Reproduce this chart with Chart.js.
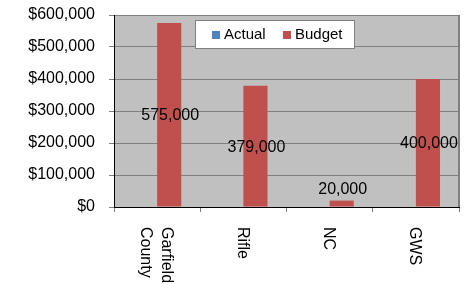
<!DOCTYPE html>
<html>
<head>
<meta charset="utf-8">
<script src="https://cdn.jsdelivr.net/npm/chart.js@4"></script>
<style>
  html, body { margin: 0; padding: 0; background: #fff; }
  #wrap { width: 473px; height: 284px; }
</style>
</head>
<body>
<div id="wrap"><canvas id="chart" width="473" height="284"></canvas></div>
<script>
// Chart data
const categories = [['Garfield', 'County'], ['Rifle'], ['NC'], ['GWS']];
const actualValues = [null, null, null, null];
const budgetValues = [575000, 379000, 20000, 400000];
const seriesNames = ['Actual', 'Budget'];
const seriesColors = ['#4F81BD', '#C0504D'];

const FONT = '"Liberation Sans", Arial, sans-serif';

// gray plot background + right border
const plotBackground = {
    id: 'plotBackground',
    beforeDraw(chart) {
        const { ctx, chartArea: a } = chart;
        ctx.save();
        ctx.fillStyle = '#C0C0C0';
        ctx.fillRect(a.left, a.top, a.right - a.left, a.bottom - a.top);
        ctx.restore();
    },
    afterDraw(chart) {
        const { ctx, chartArea: a } = chart;
        ctx.save();
        ctx.strokeStyle = '#808080';
        ctx.lineWidth = 2;
        ctx.beginPath();
        ctx.moveTo(a.right, a.top);
        ctx.lineTo(a.right, a.bottom);
        ctx.stroke();
        ctx.restore();
    }
};

// value labels on the budget bars
const barLabels = {
    id: 'barLabels',
    afterDatasetsDraw(chart) {
        const { ctx } = chart;
        const meta = chart.getDatasetMeta(1);
        ctx.save();
        ctx.font = '16px ' + FONT;
        ctx.fillStyle = '#000';
        ctx.textAlign = 'center';
        ctx.textBaseline = 'middle';
        meta.data.forEach((bar, i) => {
            const v = chart.data.datasets[1].data[i];
            if (v == null) return;
            const h = bar.base - bar.y;
            const y = h > 30 ? bar.y + h / 2 + 1 : bar.y - 11;
            ctx.fillText(v.toLocaleString('en-US'), bar.x + 1, y);
        });
        ctx.restore();
    }
};

// rotated category labels (reading top to bottom)
const categoryLabels = {
    id: 'categoryLabels',
    afterDraw(chart) {
        const { ctx } = chart;
        const xScale = chart.scales.x;
        ctx.save();
        ctx.font = '16px ' + FONT;
        ctx.fillStyle = '#000';
        ctx.textAlign = 'left';
        ctx.textBaseline = 'middle';
        categories.forEach((lines, i) => {
            const cx = xScale.getPixelForTick(i) - 1;
            const top = chart.chartArea.bottom + 20;
            ctx.save();
            ctx.translate(cx, top);
            ctx.rotate(Math.PI / 2);
            const n = lines.length;
            lines.forEach((line, j) => {
                const off = (j - (n - 1) / 2) * 21;
                ctx.fillText(line, 0, off);
            });
            ctx.restore();
        });
        ctx.restore();
    }
};

// legend box inside the plot
const boxLegend = {
    id: 'boxLegend',
    afterDraw(chart) {
        const { ctx } = chart;
        const left = 195, top = 20, w = 159, h = 28;
        ctx.save();
        ctx.fillStyle = '#fff';
        ctx.fillRect(left, top, w, h);
        ctx.strokeStyle = '#808080';
        ctx.lineWidth = 1;
        ctx.strokeRect(left + 0.5, top + 0.5, w, h);
        ctx.font = '15px ' + FONT;
        ctx.textAlign = 'left';
        ctx.textBaseline = 'middle';
        const items = [{ x: 212 }, { x: 283 }];
        chart.data.datasets.forEach((ds, i) => {
            const x = items[i].x;
            ctx.fillStyle = ds.backgroundColor;
            ctx.fillRect(x, 31, 8, 8);
            ctx.fillStyle = '#000';
            ctx.fillText(ds.label, x + 12, 35);
        });
        ctx.restore();
    }
};

new Chart(document.getElementById('chart'), {
    type: 'bar',
    data: {
        labels: categories.map(c => c.join(' ')),
        datasets: [
            {
                label: seriesNames[0],
                data: actualValues,
                backgroundColor: seriesColors[0],
                barPercentage: 1,
                categoryPercentage: 0.56
            },
            {
                label: seriesNames[1],
                data: budgetValues,
                backgroundColor: seriesColors[1],
                barPercentage: 1,
                categoryPercentage: 0.56
            }
        ]
    },
    options: {
        responsive: false,
        animation: false,
        layout: { padding: { top: 15, right: 14, left: 0, bottom: 0 } },
        plugins: {
            legend: { display: false },
            tooltip: { enabled: false }
        },
        scales: {
            x: {
                grid: {
                    offset: true,
                    drawOnChartArea: false,
                    drawTicks: true,
                    tickLength: 5,
                    color: '#808080'
                },
                border: { color: '#000', width: 1 },
                ticks: { display: false },
                afterFit(scale) { scale.height = 77; }
            },
            y: {
                min: 0,
                max: 600000,
                grid: { color: '#808080', tickLength: 5 },
                border: { color: '#000', width: 1 },
                ticks: {
                    stepSize: 100000,
                    padding: 14,
                    color: '#000',
                    font: { family: FONT, size: 16 },
                    callback: v => '$' + v.toLocaleString('en-US')
                },
                afterFit(scale) {
                    scale.width = 114;
                    // tick padding is meant for the horizontal gap only
                    scale.paddingTop = 0;
                    scale.paddingBottom = 0;
                }
            }
        }
    },
    plugins: [plotBackground, barLabels, categoryLabels, boxLegend]
});
</script>
</body>
</html>
